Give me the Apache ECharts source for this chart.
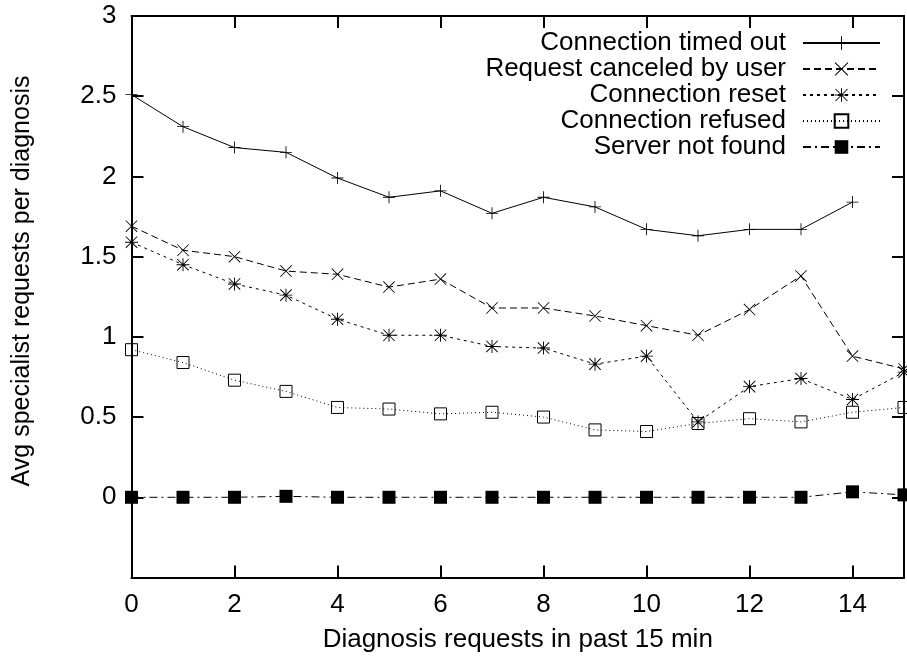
<!DOCTYPE html>
<html>
<head>
<meta charset="utf-8">
<script src="https://cdn.jsdelivr.net/npm/echarts@6/dist/echarts.min.js"></script>
<style>
html,body{margin:0;padding:0;background:#fff;}
#c{width:907px;height:660px;}
</style>
</head>
<body>
<div id="c"></div>
<script>
const xValues = [0,1,2,3,4,5,6,7,8,9,10,11,12,13,14,15];
const seriesNames = ['Connection timed out','Request canceled by user','Connection reset','Connection refused','Server not found'];
const timedOut = [2.51,2.31,2.18,2.15,1.99,1.87,1.91,1.77,1.87,1.81,1.67,1.63,1.67,1.67,1.84];
const canceled = [1.69,1.54,1.50,1.41,1.39,1.31,1.36,1.18,1.18,1.13,1.07,1.01,1.17,1.38,0.88,0.80];
const reset = [1.59,1.45,1.33,1.26,1.11,1.01,1.01,0.94,0.93,0.83,0.88,0.47,0.69,0.74,0.61,0.78];
const refused = [0.92,0.84,0.73,0.66,0.56,0.55,0.52,0.53,0.50,0.42,0.41,0.46,0.49,0.47,0.53,0.56];
const notFound = [0,0,0,0.006,0,0,0,0,0,0,0,0,0,0,0.034,0.015];
const xTitle = 'Diagnosis requests in past 15 min';
const yTitle = 'Avg specialist requests per diagnosis';

const FONT = 'Liberation Sans';
const FS = 26;
const PLUS = 'path://M0,6.5H14V7.5H0Z M6.5,0H7.5V14H6.5Z';
const CROSS = 'path://M0,0.7L0.7,0L14,13.3L13.3,14Z M13.3,0L14,0.7L0.7,14L0,13.3Z';
const STAR = 'path://M0,6.5H14V7.5H0Z M6.5,0H7.5V14H6.5Z M0.5,1.2L1.2,0.5L13.5,12.8L12.8,13.5Z M12.8,0.5L13.5,1.2L1.2,13.5L0.5,12.8Z';

function pairs(arr){ return arr.map((v,i)=>[xValues[i], v]); }

const lineDefs = [
  {data: timedOut, dash: 'solid', symbol: PLUS, size: 12, fill: '#000'},
  {data: canceled, dash: [7,4], symbol: CROSS, size: 12, fill: '#000'},
  {data: reset, dash: [3,4], symbol: STAR, size: 13, fill: '#000'},
  {data: refused, dash: [1,3], symbol: 'rect', size: 12, fill: 'none', border: true},
  {data: notFound, dash: [8,4,2,4], symbol: 'rect', size: 13, fill: '#000'}
];

const series = lineDefs.map((d,i)=>({
  name: seriesNames[i],
  type: 'line',
  data: pairs(d.data),
  symbol: d.symbol,
  symbolSize: d.size,
  showAllSymbol: true,
  animation: false,
  clip: false,
  lineStyle: {color: '#000', width: 1, type: d.dash},
  itemStyle: d.border ? {color: 'none', borderColor: '#000', borderWidth: 1, opacity: 1} : {color: d.fill, borderWidth: 0, opacity: 1},
  emphasis: {disabled: true}
}));

function axisCommon(){
  return {
    axisLine: {show: true, onZero: false, lineStyle: {color: '#000', width: 2}},
    axisTick: {show: true, inside: true, length: 12, lineStyle: {color: '#000', width: 2}},
    splitLine: {show: false}
  };
}

const option = {
  backgroundColor: '#fff',
  animation: false,
  textStyle: {fontFamily: FONT},
  grid: {left: 131.5, top: 16, right: -5, bottom: 82.5},
  legend: {
    orient: 'vertical',
    right: 21,
    top: 25,
    align: 'right',
    itemWidth: 77,
    itemHeight: 17,
    itemGap: 0,
    selectedMode: false,
    textStyle: {fontFamily: FONT, fontSize: FS, color: '#000', lineHeight: 26, padding: [0, 12, 0, 0]},
    data: seriesNames
  },
  graphic: [{
    type: 'text',
    x: 22, y: 281,
    rotation: Math.PI / 2,
    style: {text: yTitle, font: '25px "' + FONT + '"', fill: '#000', align: 'center', verticalAlign: 'middle'}
  }],
  xAxis: [
    Object.assign(axisCommon(), {
      type: 'value', min: 0, max: 15, interval: 2, position: 'bottom',
      name: xTitle, nameLocation: 'middle', nameGap: 49,
      nameTextStyle: {fontFamily: FONT, fontSize: FS, color: '#000'},
      axisLabel: {fontFamily: FONT, fontSize: FS, color: '#000', margin: 14,
        formatter: v => (v === 15 ? '' : String(v))}
    }),
    Object.assign(axisCommon(), {
      type: 'value', min: 0, max: 15, interval: 2, position: 'top',
      axisLabel: {show: false}
    })
  ],
  yAxis: [
    Object.assign(axisCommon(), {
      type: 'value', min: -0.5, max: 3, interval: 0.5, position: 'left',
      axisLabel: {fontFamily: FONT, fontSize: FS, color: '#000', margin: 15,
        formatter: v => (Math.abs(v + 0.5) < 1e-9 ? '' : String(v))}
    }),
    Object.assign(axisCommon(), {
      type: 'value', min: -0.5, max: 3, interval: 0.5, position: 'right',
      axisLabel: {show: false}
    })
  ],
  series: series
};

const chart = echarts.init(document.getElementById('c'), null, {renderer: 'canvas'});
chart.setOption(option);
</script>
</body>
</html>
